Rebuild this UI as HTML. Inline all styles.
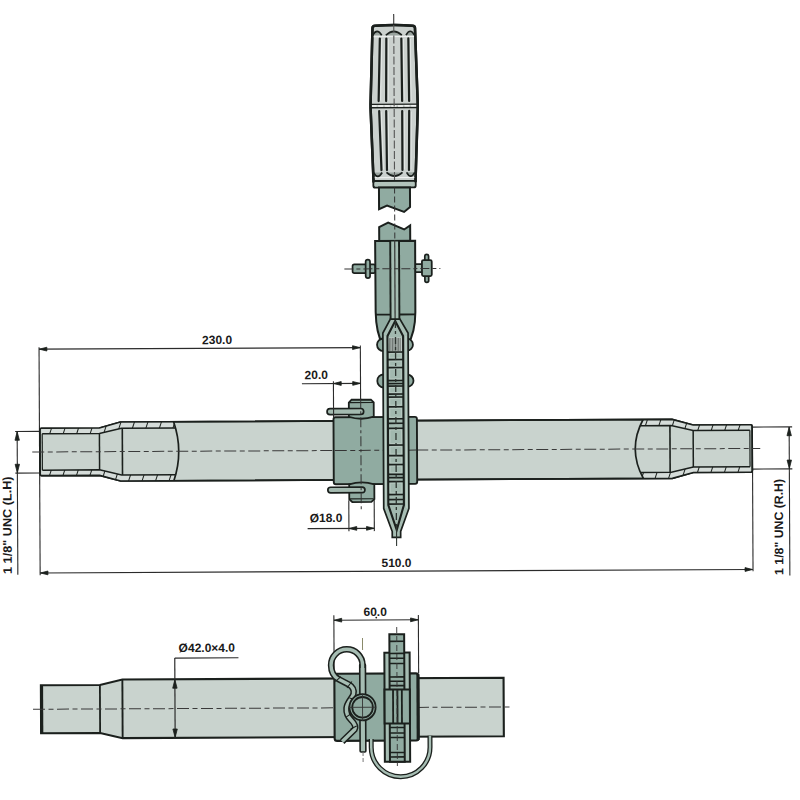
<!DOCTYPE html>
<html><head><meta charset="utf-8"><style>
html,body{margin:0;padding:0;background:#fff;}
svg{display:block;font-family:"Liberation Sans",sans-serif;}
text{fill:#1a1a1a;}
</style></head><body>
<svg width="800" height="800" viewBox="0 0 800 800">
<defs><clipPath id="wallclip"><path d="M40.95 426.5 L99.25 426.5 L120.25 420.7 L173.5 420.7 L175.35 426.8 L121.25 426.8 L99.25 432 L42.05 432 Z"/><path d="M750.8 426.5 L693 426.5 L672 420.7 L643 420.7 L640.03 426.8 L671 426.8 L693 432 L749.7 432 Z"/><path d="M40.95 473.9 L99.25 473.9 L120.25 479.7 L173.5 479.7 L175.35 473.6 L121.25 473.6 L99.25 468.4 L42.05 468.4 Z"/><path d="M750.8 473.9 L693 473.9 L672 479.7 L643 479.7 L640.03 473.6 L671 473.6 L693 468.4 L749.7 468.4 Z"/></clipPath><clipPath id="hclip"><path d="M374.3 28 Q374.4 25.9 377 25.7 Q395.6 24.4 414.2 25.7 Q416.8 25.9 416.8 28 L419.2 104 L419.2 108 L416.6 181 L374.6 181 L372.0 108 L372.0 104 Z"/></clipPath></defs>
<rect width="800" height="800" fill="#fff"/>
<g transform="rotate(-0.28 400 400)">
<line x1="39.3" y1="345.5" x2="39.3" y2="573.6" stroke="#2b2b2b" stroke-width="1.1" />
<line x1="39.3" y1="347.4" x2="360.6" y2="347.4" stroke="#2b2b2b" stroke-width="1.1" />
<path d="M39.6 347.4 L47.1 345.5 L47.1 349.3 Z" fill="#1b201d" stroke="#1b201d" stroke-width="0.8" stroke-linejoin="round"/>
<path d="M360.3 347.4 L352.8 349.3 L352.8 345.5 Z" fill="#1b201d" stroke="#1b201d" stroke-width="0.8" stroke-linejoin="round"/>
<line x1="360.6" y1="345.2" x2="360.6" y2="400" stroke="#2b2b2b" stroke-width="1.1" />
<text x="217.4" y="343.2" font-size="12" font-weight="bold" text-anchor="middle" >230.0</text>
<line x1="302" y1="383.2" x2="360.6" y2="383.2" stroke="#2b2b2b" stroke-width="1.1" />
<path d="M333.8 383.2 L341.3 381.3 L341.3 385.1 Z" fill="#1b201d" stroke="#1b201d" stroke-width="0.8" stroke-linejoin="round"/>
<path d="M360.3 383.2 L352.8 385.1 L352.8 381.3 Z" fill="#1b201d" stroke="#1b201d" stroke-width="0.8" stroke-linejoin="round"/>
<text x="316.4" y="378.7" font-size="12" font-weight="bold" text-anchor="middle" >20.0</text>
<line x1="348.3" y1="500" x2="348.3" y2="531" stroke="#2b2b2b" stroke-width="1.1" />
<line x1="373.7" y1="500" x2="373.7" y2="531" stroke="#2b2b2b" stroke-width="1.1" />
<line x1="307" y1="528.2" x2="373.7" y2="528.2" stroke="#2b2b2b" stroke-width="1.1" />
<path d="M348.6 528.2 L356.1 526.3 L356.1 530.1 Z" fill="#1b201d" stroke="#1b201d" stroke-width="0.8" stroke-linejoin="round"/>
<path d="M373.4 528.2 L365.9 530.1 L365.9 526.3 Z" fill="#1b201d" stroke="#1b201d" stroke-width="0.8" stroke-linejoin="round"/>
<text x="325.4" y="521.7" font-size="12" font-weight="bold" text-anchor="middle" >&#216;18.0</text>
<line x1="39.3" y1="571.2" x2="752" y2="571.2" stroke="#2b2b2b" stroke-width="1.1" />
<path d="M39.6 571.2 L47.1 569.3 L47.1 573.1 Z" fill="#1b201d" stroke="#1b201d" stroke-width="0.8" stroke-linejoin="round"/>
<path d="M751.7 571.2 L744.2 573.1 L744.2 569.3 Z" fill="#1b201d" stroke="#1b201d" stroke-width="0.8" stroke-linejoin="round"/>
<line x1="752.2" y1="470" x2="752.2" y2="573" stroke="#2b2b2b" stroke-width="1.1" />
<text x="395.7" y="567" font-size="12" font-weight="bold" text-anchor="middle" >510.0</text>
<line x1="15" y1="429.6" x2="40" y2="429.6" stroke="#2b2b2b" stroke-width="1.1" />
<line x1="15" y1="471.2" x2="40" y2="471.2" stroke="#2b2b2b" stroke-width="1.1" />
<line x1="17" y1="429.6" x2="17" y2="573" stroke="#2b2b2b" stroke-width="1.1" />
<path d="M17 429.9 L19.2 438.4 L14.8 438.4 Z" fill="#1b201d" stroke="#1b201d" stroke-width="0.8" stroke-linejoin="round"/>
<path d="M17 470.9 L14.8 462.4 L19.2 462.4 Z" fill="#1b201d" stroke="#1b201d" stroke-width="0.8" stroke-linejoin="round"/>
<text x="0" y="0" font-size="12.2" font-weight="bold" text-anchor="middle" textLength="97.5" lengthAdjust="spacingAndGlyphs" transform="translate(10.9 523.3) rotate(-90)">1 1/8" UNC (L.H)</text>
<line x1="752" y1="428.8" x2="792" y2="428.8" stroke="#2b2b2b" stroke-width="1.1" />
<line x1="752" y1="470.8" x2="792" y2="470.8" stroke="#2b2b2b" stroke-width="1.1" />
<line x1="789" y1="428.8" x2="789" y2="577.4" stroke="#2b2b2b" stroke-width="1.1" />
<path d="M789 429.1 L791.2 437.6 L786.8 437.6 Z" fill="#1b201d" stroke="#1b201d" stroke-width="0.8" stroke-linejoin="round"/>
<path d="M789 470.5 L786.8 462 L791.2 462 Z" fill="#1b201d" stroke="#1b201d" stroke-width="0.8" stroke-linejoin="round"/>
<text x="0" y="0" font-size="12.2" font-weight="bold" text-anchor="middle" textLength="96" lengthAdjust="spacingAndGlyphs" transform="translate(782.4 528.8) rotate(-90)">1 1/8" UNC (R.H)</text>
<path d="M41.25 426.5 L99.25 426.5 L120.25 420.7 L672 420.7 L693 426.5 L750.5 426.5 Q752 426.5 752 428 L752 472.4 Q752 473.9 750.5 473.9 L693 473.9 L672 479.7 L120.25 479.7 L99.25 473.9 L41.25 473.9 Q39.75 473.9 39.75 472.4 L39.75 428 Q39.75 426.5 41.25 426.5 Z" fill="#c9d3ce" stroke="#1b201d" stroke-width="1.6" />
<path d="M40.95 426.5 L99.25 426.5 L120.25 420.7 L173.5 420.7 L175.35 426.8 L121.25 426.8 L99.25 432 L42.05 432 Z" fill="#d5dcd9" stroke="none" stroke-width="0" class="wall"/>
<path d="M750.8 426.5 L693 426.5 L672 420.7 L643 420.7 L640.03 426.8 L671 426.8 L693 432 L749.7 432 Z" fill="#d5dcd9" stroke="none" stroke-width="0" />
<path d="M42.05 432 L99.25 432 L121.25 426.8 L175.35 426.8" fill="none" stroke="#1b201d" stroke-width="1.5" />
<path d="M749.7 432 L693 432 L671 426.8 L640.03 426.8" fill="none" stroke="#1b201d" stroke-width="1.5" />
<path d="M40.95 473.9 L99.25 473.9 L120.25 479.7 L173.5 479.7 L175.35 473.6 L121.25 473.6 L99.25 468.4 L42.05 468.4 Z" fill="#d5dcd9" stroke="none" stroke-width="0" class="wall"/>
<path d="M750.8 473.9 L693 473.9 L672 479.7 L643 479.7 L640.03 473.6 L671 473.6 L693 468.4 L749.7 468.4 Z" fill="#d5dcd9" stroke="none" stroke-width="0" />
<path d="M42.05 468.4 L99.25 468.4 L121.25 473.6 L175.35 473.6" fill="none" stroke="#1b201d" stroke-width="1.5" />
<path d="M749.7 468.4 L693 468.4 L671 473.6 L640.03 473.6" fill="none" stroke="#1b201d" stroke-width="1.5" />
<g clip-path="url(#wallclip)">
<line x1="20" y1="480.2" x2="40" y2="420.2" stroke="#1b201d" stroke-width="1.0" />
<line x1="33.5" y1="480.2" x2="53.5" y2="420.2" stroke="#1b201d" stroke-width="1.0" />
<line x1="47" y1="480.2" x2="67" y2="420.2" stroke="#1b201d" stroke-width="1.0" />
<line x1="60.5" y1="480.2" x2="80.5" y2="420.2" stroke="#1b201d" stroke-width="1.0" />
<line x1="74" y1="480.2" x2="94" y2="420.2" stroke="#1b201d" stroke-width="1.0" />
<line x1="87.5" y1="480.2" x2="107.5" y2="420.2" stroke="#1b201d" stroke-width="1.0" />
<line x1="101" y1="480.2" x2="121" y2="420.2" stroke="#1b201d" stroke-width="1.0" />
<line x1="114.5" y1="480.2" x2="134.5" y2="420.2" stroke="#1b201d" stroke-width="1.0" />
<line x1="128" y1="480.2" x2="148" y2="420.2" stroke="#1b201d" stroke-width="1.0" />
<line x1="141.5" y1="480.2" x2="161.5" y2="420.2" stroke="#1b201d" stroke-width="1.0" />
<line x1="155" y1="480.2" x2="175" y2="420.2" stroke="#1b201d" stroke-width="1.0" />
<line x1="168.5" y1="480.2" x2="188.5" y2="420.2" stroke="#1b201d" stroke-width="1.0" />
<line x1="182" y1="480.2" x2="202" y2="420.2" stroke="#1b201d" stroke-width="1.0" />
<line x1="195.5" y1="480.2" x2="215.5" y2="420.2" stroke="#1b201d" stroke-width="1.0" />
<line x1="209" y1="480.2" x2="229" y2="420.2" stroke="#1b201d" stroke-width="1.0" />
<line x1="222.5" y1="480.2" x2="242.5" y2="420.2" stroke="#1b201d" stroke-width="1.0" />
<line x1="236" y1="480.2" x2="256" y2="420.2" stroke="#1b201d" stroke-width="1.0" />
<line x1="249.5" y1="480.2" x2="269.5" y2="420.2" stroke="#1b201d" stroke-width="1.0" />
<line x1="263" y1="480.2" x2="283" y2="420.2" stroke="#1b201d" stroke-width="1.0" />
<line x1="276.5" y1="480.2" x2="296.5" y2="420.2" stroke="#1b201d" stroke-width="1.0" />
<line x1="290" y1="480.2" x2="310" y2="420.2" stroke="#1b201d" stroke-width="1.0" />
<line x1="303.5" y1="480.2" x2="323.5" y2="420.2" stroke="#1b201d" stroke-width="1.0" />
<line x1="317" y1="480.2" x2="337" y2="420.2" stroke="#1b201d" stroke-width="1.0" />
<line x1="330.5" y1="480.2" x2="350.5" y2="420.2" stroke="#1b201d" stroke-width="1.0" />
<line x1="344" y1="480.2" x2="364" y2="420.2" stroke="#1b201d" stroke-width="1.0" />
<line x1="357.5" y1="480.2" x2="377.5" y2="420.2" stroke="#1b201d" stroke-width="1.0" />
<line x1="371" y1="480.2" x2="391" y2="420.2" stroke="#1b201d" stroke-width="1.0" />
<line x1="384.5" y1="480.2" x2="404.5" y2="420.2" stroke="#1b201d" stroke-width="1.0" />
<line x1="398" y1="480.2" x2="418" y2="420.2" stroke="#1b201d" stroke-width="1.0" />
<line x1="411.5" y1="480.2" x2="431.5" y2="420.2" stroke="#1b201d" stroke-width="1.0" />
<line x1="425" y1="480.2" x2="445" y2="420.2" stroke="#1b201d" stroke-width="1.0" />
<line x1="438.5" y1="480.2" x2="458.5" y2="420.2" stroke="#1b201d" stroke-width="1.0" />
<line x1="452" y1="480.2" x2="472" y2="420.2" stroke="#1b201d" stroke-width="1.0" />
<line x1="465.5" y1="480.2" x2="485.5" y2="420.2" stroke="#1b201d" stroke-width="1.0" />
<line x1="479" y1="480.2" x2="499" y2="420.2" stroke="#1b201d" stroke-width="1.0" />
<line x1="492.5" y1="480.2" x2="512.5" y2="420.2" stroke="#1b201d" stroke-width="1.0" />
<line x1="506" y1="480.2" x2="526" y2="420.2" stroke="#1b201d" stroke-width="1.0" />
<line x1="519.5" y1="480.2" x2="539.5" y2="420.2" stroke="#1b201d" stroke-width="1.0" />
<line x1="533" y1="480.2" x2="553" y2="420.2" stroke="#1b201d" stroke-width="1.0" />
<line x1="546.5" y1="480.2" x2="566.5" y2="420.2" stroke="#1b201d" stroke-width="1.0" />
<line x1="560" y1="480.2" x2="580" y2="420.2" stroke="#1b201d" stroke-width="1.0" />
<line x1="573.5" y1="480.2" x2="593.5" y2="420.2" stroke="#1b201d" stroke-width="1.0" />
<line x1="587" y1="480.2" x2="607" y2="420.2" stroke="#1b201d" stroke-width="1.0" />
<line x1="600.5" y1="480.2" x2="620.5" y2="420.2" stroke="#1b201d" stroke-width="1.0" />
<line x1="614" y1="480.2" x2="634" y2="420.2" stroke="#1b201d" stroke-width="1.0" />
<line x1="627.5" y1="480.2" x2="647.5" y2="420.2" stroke="#1b201d" stroke-width="1.0" />
<line x1="641" y1="480.2" x2="661" y2="420.2" stroke="#1b201d" stroke-width="1.0" />
<line x1="654.5" y1="480.2" x2="674.5" y2="420.2" stroke="#1b201d" stroke-width="1.0" />
<line x1="668" y1="480.2" x2="688" y2="420.2" stroke="#1b201d" stroke-width="1.0" />
<line x1="681.5" y1="480.2" x2="701.5" y2="420.2" stroke="#1b201d" stroke-width="1.0" />
<line x1="695" y1="480.2" x2="715" y2="420.2" stroke="#1b201d" stroke-width="1.0" />
<line x1="708.5" y1="480.2" x2="728.5" y2="420.2" stroke="#1b201d" stroke-width="1.0" />
<line x1="722" y1="480.2" x2="742" y2="420.2" stroke="#1b201d" stroke-width="1.0" />
<line x1="735.5" y1="480.2" x2="755.5" y2="420.2" stroke="#1b201d" stroke-width="1.0" />
<line x1="749" y1="480.2" x2="769" y2="420.2" stroke="#1b201d" stroke-width="1.0" />
<line x1="762.5" y1="480.2" x2="782.5" y2="420.2" stroke="#1b201d" stroke-width="1.0" />
<line x1="776" y1="480.2" x2="796" y2="420.2" stroke="#1b201d" stroke-width="1.0" />
</g>
<path d="M41.25 426.5 L99.25 426.5 L120.25 420.7 L672 420.7 L693 426.5 L750.5 426.5 Q752 426.5 752 428 L752 472.4 Q752 473.9 750.5 473.9 L693 473.9 L672 479.7 L120.25 479.7 L99.25 473.9 L41.25 473.9 Q39.75 473.9 39.75 472.4 L39.75 428 Q39.75 426.5 41.25 426.5 Z" fill="none" stroke="#1b201d" stroke-width="1.6" />
<line x1="42.05" y1="432" x2="42.05" y2="468.4" stroke="#1b201d" stroke-width="1.2" />
<line x1="99.25" y1="432" x2="99.25" y2="468.4" stroke="#1b201d" stroke-width="1.5" />
<line x1="122.15" y1="426.8" x2="122.15" y2="473.6" stroke="#1b201d" stroke-width="1.6" />
<line x1="749.7" y1="432" x2="749.7" y2="468.4" stroke="#1b201d" stroke-width="1.2" />
<line x1="693" y1="432" x2="693" y2="468.4" stroke="#1b201d" stroke-width="1.5" />
<line x1="669.8" y1="426.8" x2="669.8" y2="473.6" stroke="#1b201d" stroke-width="1.6" />
<path d="M173.5 420.7 Q183.5 450.2 173.5 479.7" fill="none" stroke="#1b201d" stroke-width="1.7" />
<path d="M643 420.7 Q627 450.2 643 479.7" fill="none" stroke="#1b201d" stroke-width="1.7" />
<line x1="32" y1="450.2" x2="760" y2="450.2" stroke="#3a3a3a" stroke-width="1.0" stroke-dasharray="12 3.5 5 3.5"/>
<rect x="333.4" y="416.9" width="83.4" height="67" rx="2" fill="#90aba1" stroke="#1b201d" stroke-width="1.9" />
<line x1="334.5" y1="450.2" x2="416" y2="450.2" stroke="#333" stroke-width="1.0" stroke-dasharray="12 3.5 5 3.5"/>
<path d="M348.8 416.5 L348.8 402.3 L351.6 399.5 L370.9 399.5 L373.7 402.3 L373.7 416.5 Q361.2 420.6 348.8 416.5 Z" fill="#90aba1" stroke="#1b201d" stroke-width="1.8" />
<line x1="349.5" y1="402.4" x2="373" y2="402.4" stroke="#1b201d" stroke-width="1.1" />
<rect x="327" y="408.3" width="36.6" height="6" rx="3" fill="#a4bab0" stroke="#1b201d" stroke-width="1.7" />
<path d="M348.8 484.2 L348.8 499 L351.8 501.8 L370.9 501.8 L373.9 499 L373.9 484.2 Q361.3 480.2 348.8 484.2 Z" fill="#90aba1" stroke="#1b201d" stroke-width="1.8" />
<line x1="349.5" y1="498.6" x2="373.2" y2="498.6" stroke="#1b201d" stroke-width="1.1" />
<rect x="327.4" y="486.9" width="37.1" height="5.6" rx="2.8" fill="#a4bab0" stroke="#1b201d" stroke-width="1.7" />
<line x1="333.5" y1="381" x2="333.5" y2="417" stroke="#2b2b2b" stroke-width="1.1" />
<line x1="360.7" y1="398" x2="360.7" y2="509" stroke="#333" stroke-width="1.0" stroke-dasharray="10 3 3 3"/>
<path d="M374.3 28 Q374.4 25.9 377 25.7 Q395.6 24.4 414.2 25.7 Q416.8 25.9 416.8 28 L419.2 104 L419.2 108 L416.6 181 L374.6 181 L372.0 108 L372.0 104 Z" fill="#cbd1ce" stroke="#1b201d" stroke-width="2.5" />
<line x1="372" y1="104.2" x2="419.2" y2="104.2" stroke="#1b201d" stroke-width="1.4" />
<line x1="372" y1="107.6" x2="419.2" y2="107.6" stroke="#1b201d" stroke-width="1.4" />
<line x1="373" y1="105.9" x2="418.2" y2="105.9" stroke="#f3f5f4" stroke-width="1.5" stroke-dasharray="5 1.6"/>
<line x1="374.6" y1="36.5" x2="416.6" y2="36.5" stroke="#f2f4f3" stroke-width="1.0" />
<line x1="374.6" y1="177.5" x2="416.6" y2="177.5" stroke="#f2f4f3" stroke-width="1.0" />
<g clip-path="url(#hclip)">
<path d="M374.3 35.2 Q378.9 27.4 383.5 35.2 Z" fill="#99a39e" stroke="none"/>
<path d="M374.3 35.2 Q378.9 27.4 383.5 35.2" fill="none" stroke="#1b201d" stroke-width="1.7"/>
<path d="M387.6 35.2 Q395.6 27.4 403.6 35.2 Z" fill="#99a39e" stroke="none"/>
<path d="M387.6 35.2 Q395.6 27.4 403.6 35.2" fill="none" stroke="#1b201d" stroke-width="1.7"/>
<path d="M407.8 35.2 Q412 27.4 416.2 35.2 Z" fill="#99a39e" stroke="none"/>
<path d="M407.8 35.2 Q412 27.4 416.2 35.2" fill="none" stroke="#1b201d" stroke-width="1.7"/>
<path d="M374.5 172.4 Q378.9 180 383.3 172.4 Z" fill="#99a39e" stroke="none"/>
<path d="M374.5 172.4 Q378.9 180 383.3 172.4" fill="none" stroke="#1b201d" stroke-width="1.7"/>
<path d="M387.6 172.4 Q395.6 180 403.6 172.4 Z" fill="#99a39e" stroke="none"/>
<path d="M387.6 172.4 Q395.6 180 403.6 172.4" fill="none" stroke="#1b201d" stroke-width="1.7"/>
<path d="M407.7 172.4 Q411.8 180 415.9 172.4 Z" fill="#99a39e" stroke="none"/>
<path d="M407.7 172.4 Q411.8 180 415.9 172.4" fill="none" stroke="#1b201d" stroke-width="1.7"/>
</g>
<line x1="383.6" y1="39" x2="382.1" y2="100.5" stroke="#e4e8e6" stroke-width="1.0" />
<line x1="381.6" y1="38.5" x2="380.1" y2="101" stroke="#1b201d" stroke-width="2.2" stroke-linecap="round"/>
<line x1="390.1" y1="39" x2="389.6" y2="100.5" stroke="#e4e8e6" stroke-width="1.0" />
<line x1="388.1" y1="38.5" x2="387.6" y2="101" stroke="#1b201d" stroke-width="2.2" stroke-linecap="round"/>
<line x1="405.1" y1="39" x2="405.6" y2="100.5" stroke="#e4e8e6" stroke-width="1.0" />
<line x1="403.1" y1="38.5" x2="403.6" y2="101" stroke="#1b201d" stroke-width="2.2" stroke-linecap="round"/>
<line x1="412.1" y1="39" x2="412.6" y2="100.5" stroke="#e4e8e6" stroke-width="1.0" />
<line x1="410.1" y1="38.5" x2="410.6" y2="101" stroke="#1b201d" stroke-width="2.2" stroke-linecap="round"/>
<line x1="382.6" y1="111.5" x2="384.6" y2="169.5" stroke="#e4e8e6" stroke-width="1.0" />
<line x1="380.6" y1="111" x2="382.6" y2="170" stroke="#1b201d" stroke-width="2.2" stroke-linecap="round"/>
<line x1="389.6" y1="111.5" x2="390.1" y2="169.5" stroke="#e4e8e6" stroke-width="1.0" />
<line x1="387.6" y1="111" x2="388.1" y2="170" stroke="#1b201d" stroke-width="2.2" stroke-linecap="round"/>
<line x1="405.6" y1="111.5" x2="405.6" y2="169.5" stroke="#e4e8e6" stroke-width="1.0" />
<line x1="403.6" y1="111" x2="403.6" y2="170" stroke="#1b201d" stroke-width="2.2" stroke-linecap="round"/>
<line x1="412.6" y1="111.5" x2="412.1" y2="169.5" stroke="#e4e8e6" stroke-width="1.0" />
<line x1="410.6" y1="111" x2="410.1" y2="170" stroke="#1b201d" stroke-width="2.2" stroke-linecap="round"/>
<path d="M374.3 28 Q374.4 25.9 377 25.7 Q395.6 24.4 414.2 25.7 Q416.8 25.9 416.8 28 L419.2 104 L419.2 108 L416.6 181 L374.6 181 L372.0 108 L372.0 104 Z" fill="none" stroke="#1b201d" stroke-width="2.5" />
<line x1="395.6" y1="14" x2="395.6" y2="25" stroke="#222" stroke-width="1.0" />
<line x1="395.6" y1="25" x2="395.6" y2="187" stroke="#555" stroke-width="1.1" stroke-dasharray="8 2.5"/>
<rect x="374.4" y="181" width="42.4" height="6.5" rx="2" fill="#b3c4bc" stroke="#1b201d" stroke-width="1.8" />
<path d="M380 187.5 L411 187.5 L411 207 L405 212 L388 205.5 L380 209 Z" fill="#90aba1" stroke="#1b201d" stroke-width="2" />
<path d="M380 240.8 L411 240.8 L411 225.5 L405 229.5 L389 222.5 L380 227 Z" fill="#90aba1" stroke="#1b201d" stroke-width="2" />
<line x1="395.6" y1="187.5" x2="395.6" y2="240" stroke="#333" stroke-width="1.0" stroke-dasharray="6 3"/>
<rect x="353.2" y="264.2" width="22.8" height="8.7" rx="1.8" fill="#90aba1" stroke="#1b201d" stroke-width="1.7" />
<rect x="366.3" y="259.4" width="4.4" height="18.6" rx="2.2" fill="#90aba1" stroke="#1b201d" stroke-width="1.7" />
<rect x="415" y="264.2" width="9" height="8" rx="1" fill="#a9beb5" stroke="#1b201d" stroke-width="1.7" />
<rect x="425.5" y="254.6" width="3.8" height="28" rx="1.9" fill="#90aba1" stroke="#1b201d" stroke-width="1.7" />
<rect x="422.6" y="260.2" width="9.8" height="16" rx="1.5" fill="#90aba1" stroke="#1b201d" stroke-width="1.8" />
<path d="M375.9 240.8 L415.9 240.8 L415.8 312 Q415.6 333 407.8 345 L383.2 345 Q376.4 333 376.1 312 Z" fill="#90aba1" stroke="#1b201d" stroke-width="2.0" />
<line x1="376.1" y1="314.5" x2="390.7" y2="314.5" stroke="#1b201d" stroke-width="1.8" />
<line x1="400.3" y1="314.5" x2="415.8" y2="314.5" stroke="#1b201d" stroke-width="1.8" />
<rect x="390.7" y="241.5" width="9.6" height="77.5" rx="0" fill="#a6bdb3" stroke="none" stroke-width="0" />
<line x1="391" y1="241" x2="391" y2="319" stroke="#1b201d" stroke-width="1.9" />
<line x1="399.8" y1="241" x2="399.8" y2="319" stroke="#1b201d" stroke-width="1.9" />
<line x1="395.5" y1="240" x2="395.5" y2="319" stroke="#333" stroke-width="1.2" />
<line x1="345" y1="268.7" x2="441" y2="268.7" stroke="#333" stroke-width="1.0" stroke-dasharray="9 3 4 3"/>
<circle cx="383.6" cy="344.7" r="6.3" fill="#90aba1" stroke="#1b201d" stroke-width="1.8" />
<circle cx="407.2" cy="344.7" r="6" fill="#90aba1" stroke="#1b201d" stroke-width="1.8" />
<circle cx="384" cy="380.8" r="6.6" fill="#90aba1" stroke="#1b201d" stroke-width="1.8" />
<circle cx="407.6" cy="380.8" r="6" fill="#90aba1" stroke="#1b201d" stroke-width="1.8" />
<path d="M390.7 319 L383.2 333 L383.2 508.5 L391.6 531.5 L391.6 537.3 L400.0 537.3 L400.0 531.5 L408.4 508.5 L408.4 333 L400.3 319 Z" fill="#a6bdb3" stroke="#1b201d" stroke-width="1.7" />
<line x1="385.3" y1="336" x2="385.3" y2="508" stroke="#c3d2cb" stroke-width="0.9" />
<line x1="406.2" y1="336" x2="406.2" y2="508" stroke="#c3d2cb" stroke-width="0.9" />
<path d="M395.6 321 L387.8 336 L387.8 505 L396.1 530 L403.4 505 L403.4 336 Z" fill="#a2b9af" stroke="#1b201d" stroke-width="2.1" />
<rect x="389" y="337.5" width="13.2" height="14" rx="0" fill="#c2cdc8" stroke="none" stroke-width="0" />
<line x1="389.6" y1="338" x2="389.6" y2="351" stroke="#3a3f3c" stroke-width="0.65" />
<line x1="391.15" y1="338" x2="391.15" y2="351" stroke="#3a3f3c" stroke-width="0.65" />
<line x1="392.7" y1="338" x2="392.7" y2="351" stroke="#3a3f3c" stroke-width="0.65" />
<line x1="394.25" y1="338" x2="394.25" y2="351" stroke="#3a3f3c" stroke-width="0.65" />
<line x1="395.8" y1="338" x2="395.8" y2="351" stroke="#3a3f3c" stroke-width="0.65" />
<line x1="397.35" y1="338" x2="397.35" y2="351" stroke="#3a3f3c" stroke-width="0.65" />
<line x1="398.9" y1="338" x2="398.9" y2="351" stroke="#3a3f3c" stroke-width="0.65" />
<line x1="400.45" y1="338" x2="400.45" y2="351" stroke="#3a3f3c" stroke-width="0.65" />
<rect x="389.8" y="353.6" width="11.6" height="4.3" rx="0" fill="none" stroke="#b9cac2" stroke-width="0.9" />
<rect x="389.8" y="361.1" width="11.6" height="4.8" rx="0" fill="none" stroke="#b9cac2" stroke-width="0.9" />
<rect x="389.8" y="369.1" width="11.6" height="9.8" rx="0" fill="none" stroke="#b9cac2" stroke-width="0.9" />
<rect x="389.8" y="387.6" width="11.6" height="4.8" rx="0" fill="none" stroke="#b9cac2" stroke-width="0.9" />
<rect x="389.8" y="398.6" width="11.6" height="6.55" rx="0" fill="none" stroke="#b9cac2" stroke-width="0.9" />
<rect x="389.8" y="408.35" width="11.6" height="8.8" rx="0" fill="none" stroke="#b9cac2" stroke-width="0.9" />
<rect x="389.8" y="429.85" width="11.6" height="13.55" rx="0" fill="none" stroke="#b9cac2" stroke-width="0.9" />
<rect x="389.8" y="446.6" width="11.6" height="7.4" rx="0" fill="none" stroke="#b9cac2" stroke-width="0.9" />
<rect x="389.8" y="457.2" width="11.6" height="5.7" rx="0" fill="none" stroke="#b9cac2" stroke-width="0.9" />
<rect x="389.8" y="466.1" width="11.6" height="6.6" rx="0" fill="none" stroke="#b9cac2" stroke-width="0.9" />
<rect x="389.8" y="483.1" width="11.6" height="9.8" rx="0" fill="none" stroke="#b9cac2" stroke-width="0.9" />
<line x1="387.8" y1="352" x2="403.4" y2="352" stroke="#1b201d" stroke-width="1.7" />
<line x1="387.8" y1="359.5" x2="403.4" y2="359.5" stroke="#1b201d" stroke-width="1.7" />
<line x1="387.8" y1="367.5" x2="403.4" y2="367.5" stroke="#1b201d" stroke-width="1.7" />
<line x1="387.8" y1="380.5" x2="403.4" y2="380.5" stroke="#1b201d" stroke-width="1.7" />
<line x1="387.8" y1="383.5" x2="403.4" y2="383.5" stroke="#1b201d" stroke-width="1.7" />
<line x1="387.8" y1="386" x2="403.4" y2="386" stroke="#1b201d" stroke-width="1.7" />
<line x1="387.8" y1="394" x2="403.4" y2="394" stroke="#1b201d" stroke-width="1.7" />
<line x1="387.8" y1="397" x2="403.4" y2="397" stroke="#1b201d" stroke-width="1.7" />
<line x1="387.8" y1="406.75" x2="403.4" y2="406.75" stroke="#1b201d" stroke-width="1.7" />
<line x1="387.8" y1="418.75" x2="403.4" y2="418.75" stroke="#1b201d" stroke-width="1.7" />
<line x1="387.8" y1="423.25" x2="403.4" y2="423.25" stroke="#1b201d" stroke-width="1.7" />
<line x1="387.8" y1="428.25" x2="403.4" y2="428.25" stroke="#1b201d" stroke-width="1.7" />
<line x1="387.8" y1="445" x2="403.4" y2="445" stroke="#1b201d" stroke-width="1.7" />
<line x1="387.8" y1="455.6" x2="403.4" y2="455.6" stroke="#1b201d" stroke-width="1.7" />
<line x1="387.8" y1="464.5" x2="403.4" y2="464.5" stroke="#1b201d" stroke-width="1.7" />
<line x1="387.8" y1="474.3" x2="403.4" y2="474.3" stroke="#1b201d" stroke-width="1.7" />
<line x1="387.8" y1="477.6" x2="403.4" y2="477.6" stroke="#1b201d" stroke-width="1.7" />
<line x1="387.8" y1="481.5" x2="403.4" y2="481.5" stroke="#1b201d" stroke-width="1.7" />
<line x1="387.8" y1="494.5" x2="403.4" y2="494.5" stroke="#1b201d" stroke-width="1.7" />
<line x1="387.8" y1="499.5" x2="403.4" y2="499.5" stroke="#1b201d" stroke-width="1.7" />
<line x1="387.8" y1="504" x2="403.4" y2="504" stroke="#1b201d" stroke-width="1.7" />
<line x1="395.8" y1="321" x2="395.8" y2="520" stroke="#2d3530" stroke-width="1.3" stroke-dasharray="7 3 3 3"/>
<line x1="395.9" y1="524" x2="395.9" y2="546" stroke="#2d3530" stroke-width="1.1" />
</g>
<g transform="rotate(-0.28 400 400)">
<line x1="173.5" y1="657" x2="237.2" y2="657" stroke="#2b2b2b" stroke-width="1.1" />
<text x="205.6" y="651" font-size="12" font-weight="bold" text-anchor="middle" >&#216;42.0&#215;4.0</text>
<line x1="332.8" y1="615" x2="332.8" y2="673.4" stroke="#2b2b2b" stroke-width="1.1" />
<line x1="417.3" y1="615" x2="417.3" y2="673.4" stroke="#2b2b2b" stroke-width="1.1" />
<line x1="332.8" y1="619.9" x2="417.3" y2="619.9" stroke="#2b2b2b" stroke-width="1.1" />
<path d="M333.1 619.9 L340.6 618 L340.6 621.8 Z" fill="#1b201d" stroke="#1b201d" stroke-width="0.8" stroke-linejoin="round"/>
<path d="M417 619.9 L409.5 621.8 L409.5 618 Z" fill="#1b201d" stroke="#1b201d" stroke-width="0.8" stroke-linejoin="round"/>
<text x="374.1" y="615.9" font-size="12" font-weight="bold" text-anchor="middle" >60.0</text>
<circle cx="375.2" cy="617.5" r="0.9" fill="#1b201d" stroke="none" stroke-width="0" />
<path d="M39.5 683.5 L98.5 683.5 L121 678.2 L502.2 678.2 L502.2 736.8 L121 736.8 L98.5 731.5 L39.5 731.5 Z" fill="#c9d3ce" stroke="#1b201d" stroke-width="2.1" />
<line x1="40.2" y1="683.5" x2="40.2" y2="731.5" stroke="#1b201d" stroke-width="3" />
<line x1="98.5" y1="683.5" x2="98.5" y2="731.5" stroke="#1b201d" stroke-width="1.8" />
<line x1="121" y1="678.2" x2="121" y2="736.8" stroke="#1b201d" stroke-width="1.9" />
<line x1="31.5" y1="707.5" x2="509.5" y2="707.5" stroke="#3a3a3a" stroke-width="1.0" stroke-dasharray="12 3.5 5 3.5"/>
<line x1="173.5" y1="657" x2="173.5" y2="736.8" stroke="#2b2b2b" stroke-width="1.2" />
<path d="M173.5 678.6 L175.7 687.1 L171.3 687.1 Z" fill="#1b201d" stroke="#1b201d" stroke-width="0.8" stroke-linejoin="round"/>
<path d="M173.5 736.4 L171.3 727.9 L175.7 727.9 Z" fill="#1b201d" stroke="#1b201d" stroke-width="0.8" stroke-linejoin="round"/>
<rect x="333" y="673.4" width="84" height="67.2" rx="2.5" fill="#90aba1" stroke="#1b201d" stroke-width="2.1" />
<line x1="416.5" y1="674" x2="416.5" y2="740" stroke="#1b201d" stroke-width="3" />
<g transform="translate(-1.47 -0.2)">
<path d="M371 739 L371 747.5 A29.4 29.4 0 0 0 429.8 747.5 L429.8 736" fill="none" stroke="#1b201d" stroke-width="5.0"/>
<path d="M371 739 L371 747.5 A29.4 29.4 0 0 0 429.8 747.5 L429.8 736" fill="none" stroke="#a6bdb3" stroke-width="2.4"/>
<rect x="359.9" y="664" width="5.7" height="88" rx="1" fill="#a6bdb3" stroke="#1b201d" stroke-width="1.6" />
<line x1="362.8" y1="638" x2="362.8" y2="650" stroke="#8a8a6a" stroke-width="1.0" />
<line x1="362.8" y1="752" x2="362.8" y2="762" stroke="#777" stroke-width="1.0" stroke-dasharray="4 2"/>
<path d="M362.7 668 L362.7 665 A15.75 15.75 0 0 0 331.2 665 C331.2 671 333.5 676 338.5 679 L349 684.5 C353 687 354.5 690 353.5 694 C352.5 698 347 702 346.4 708 C346 713 348 717 351 720 C354 723 356.5 726 354.5 729.5 L342 741.5" fill="none" stroke="#1b201d" stroke-width="6.4" stroke-linecap="butt" stroke-linejoin="round"/>
<path d="M362.7 668 L362.7 665 A15.75 15.75 0 0 0 331.2 665 C331.2 671 333.5 676 338.5 679 L349 684.5 C353 687 354.5 690 353.5 694 C352.5 698 347 702 346.4 708 C346 713 348 717 351 720 C354 723 356.5 726 354.5 729.5 L342 741.5" fill="none" stroke="#a6bdb3" stroke-width="3.4" stroke-linecap="butt" stroke-linejoin="round"/>
<line x1="335.5" y1="681.5" x2="341" y2="676.5" stroke="#1b201d" stroke-width="1.0" />
<line x1="347" y1="688" x2="352" y2="681.5" stroke="#1b201d" stroke-width="1.0" />
<line x1="349.5" y1="698" x2="355.5" y2="699.5" stroke="#1b201d" stroke-width="1.0" />
<line x1="346" y1="717" x2="352" y2="713" stroke="#1b201d" stroke-width="1.0" />
<line x1="350.5" y1="729" x2="356.5" y2="726" stroke="#1b201d" stroke-width="1.0" />
<circle cx="362.5" cy="707.3" r="13.1" fill="#90aba1" stroke="#1b201d" stroke-width="1.8" />
<circle cx="362.5" cy="707.3" r="10.3" fill="#90aba1" stroke="#1b201d" stroke-width="1.8" />
<line x1="349" y1="707.3" x2="376" y2="707.3" stroke="#333" stroke-width="0.9" />
<line x1="362.5" y1="694" x2="362.5" y2="721" stroke="#333" stroke-width="0.9" />
</g>
<rect x="383.1" y="652.6" width="25.3" height="109.1" rx="0" fill="#a6bdb3" stroke="#1b201d" stroke-width="2" />
<rect x="388.2" y="634.3" width="14.8" height="127.4" rx="0" fill="#90aba1" stroke="#1b201d" stroke-width="2" />
<rect x="383.1" y="689.5" width="25.3" height="34" rx="0" fill="#90aba1" stroke="#1b201d" stroke-width="2" />
<line x1="391.6" y1="690" x2="391.6" y2="723" stroke="#1b201d" stroke-width="1.8" />
<line x1="396" y1="690" x2="396" y2="723" stroke="#1b201d" stroke-width="1.8" />
<line x1="400.4" y1="690" x2="400.4" y2="723" stroke="#1b201d" stroke-width="1.8" />
<line x1="388.2" y1="641.3" x2="403" y2="641.3" stroke="#1b201d" stroke-width="1.6" />
<line x1="388.2" y1="653.4" x2="403" y2="653.4" stroke="#1b201d" stroke-width="1.6" />
<line x1="388.2" y1="658.2" x2="403" y2="658.2" stroke="#1b201d" stroke-width="1.6" />
<line x1="388.2" y1="663.5" x2="403" y2="663.5" stroke="#1b201d" stroke-width="1.6" />
<line x1="388.2" y1="676.9" x2="403" y2="676.9" stroke="#1b201d" stroke-width="1.6" />
<line x1="388.2" y1="681.25" x2="403" y2="681.25" stroke="#1b201d" stroke-width="1.6" />
<line x1="388.2" y1="685.6" x2="403" y2="685.6" stroke="#1b201d" stroke-width="1.6" />
<line x1="388.2" y1="727.5" x2="403" y2="727.5" stroke="#1b201d" stroke-width="1.6" />
<line x1="388.2" y1="733" x2="403" y2="733" stroke="#1b201d" stroke-width="1.6" />
<line x1="388.2" y1="737.5" x2="403" y2="737.5" stroke="#1b201d" stroke-width="1.6" />
<line x1="388.2" y1="752.5" x2="403" y2="752.5" stroke="#1b201d" stroke-width="1.6" />
<line x1="388.2" y1="756.9" x2="403" y2="756.9" stroke="#1b201d" stroke-width="1.6" />
<line x1="395.6" y1="627" x2="395.6" y2="766" stroke="#333" stroke-width="0.9" stroke-dasharray="6 3"/>
</g>
</svg></body></html>
